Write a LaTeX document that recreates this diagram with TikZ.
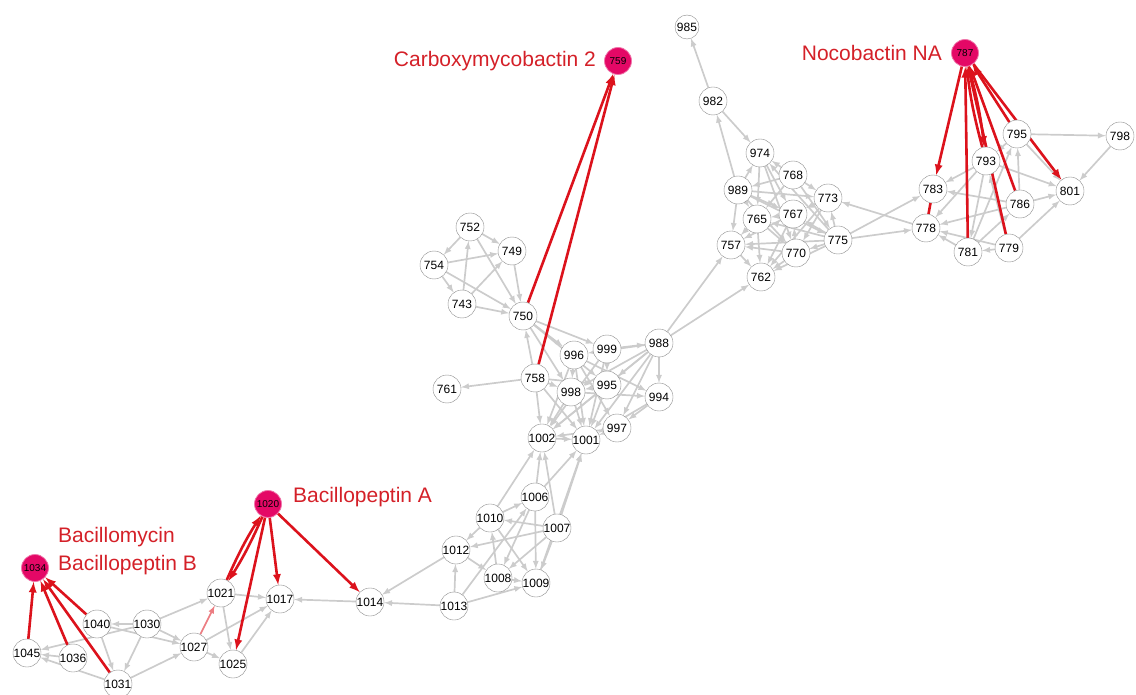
\documentclass[tikz,border=0pt]{standalone}
\usepackage{fontspec}
\setmainfont{Liberation Sans}
\usetikzlibrary{arrows,positioning}
\pgfdeclarelayer{background}
\pgfsetlayers{background,main}
\definecolor{linkgray}{RGB}{204,204,204}
\definecolor{hitred}{RGB}{220,18,28}
\definecolor{hitpink}{RGB}{228,8,102}
\definecolor{labelred}{RGB}{212,32,40}
\tikzstyle{cpd} = [circle,draw=black!45,fill=white,minimum size=28pt,inner sep=0pt,font=\fontsize{12}{12}\selectfont]
\tikzstyle{hit} = [circle,draw=hitpink!55,line width=0.8pt,fill=hitpink,minimum size=27pt,inner sep=0pt,font=\fontsize{10}{10}\selectfont]
\tikzstyle{edge} = [draw,linkgray,line width=1.7pt,-latex]
\tikzstyle{hitedge} = [draw,hitred,line width=2.6pt,-latex]
\tikzstyle{hitlabel} = [text=labelred,font=\fontsize{21}{28}\selectfont,align=left,inner sep=0pt]

\begin{document}
\begin{tikzpicture}[x=1pt,y=-1pt]
	\useasboundingbox (0,0) rectangle (1136,695);
	% hits
	\node[hit] (c759) at (618, 61) {759};
	\node[hit] (c787) at (965, 53) {787};
	\node[hit] (c1020) at (268, 504) {1020};
	\node[hit] (c1034) at (35, 568) {1034};

	\node[hitlabel, left=8pt of c759] (l759) {Carboxymycobactin 2};
	\node[hitlabel, left=9pt of c787] (l787) {Nocobactin NA};
	\node[hitlabel, right=11pt of c1020, yshift=7pt] (l1020) {Bacillopeptin A};
	\node[hitlabel, right=9pt of c1034, yshift=17pt] (l1034) {Bacillomycin\\Bacillopeptin B};

	% upper right block
	\node[cpd,minimum size=24pt] (c985) at (687, 27) {985};
	\node[cpd] (c982) at (713, 101) {982};
	\node[cpd] (c974) at (760, 153) {974};
	\node[cpd] (c768) at (793, 175) {768};
	\node[cpd] (c773) at (828, 198) {773};
	\node[cpd] (c989) at (738, 190) {989};
	\node[cpd] (c765) at (757, 219) {765};
	\node[cpd] (c767) at (793, 214) {767};
	\node[cpd] (c775) at (838, 240) {775};
	\node[cpd] (c757) at (731, 245) {757};
	\node[cpd] (c770) at (796, 253) {770};
	\node[cpd] (c762) at (761, 277) {762};

	\node[cpd] (c795) at (1017, 134) {795};
	\node[cpd] (c798) at (1120, 136) {798};
	\node[cpd] (c793) at (986, 161) {793};
	\node[cpd] (c801) at (1070, 191) {801};
	\node[cpd] (c783) at (933, 189) {783};
	\node[cpd] (c786) at (1020, 204) {786};
	\node[cpd] (c778) at (926, 228) {778};
	\node[cpd] (c781) at (968, 252) {781};
	\node[cpd] (c779) at (1009, 248) {779};

	% middle block
	\node[cpd] (c752) at (470, 227) {752};
	\node[cpd] (c749) at (512, 251) {749};
	\node[cpd] (c754) at (434, 265) {754};
	\node[cpd] (c743) at (462, 304) {743};
	\node[cpd] (c750) at (523, 316) {750};
	\node[cpd] (c988) at (659, 343) {988};
	\node[cpd] (c999) at (607, 349) {999};
	\node[cpd] (c996) at (574, 355) {996};
	\node[cpd] (c758) at (535, 378) {758};
	\node[cpd] (c761) at (447, 389) {761};
	\node[cpd] (c998) at (571, 392) {998};
	\node[cpd] (c995) at (607, 385) {995};
	\node[cpd] (c994) at (659, 397) {994};
	\node[cpd] (c997) at (617, 428) {997};
	\node[cpd] (c1002) at (542, 438) {1002};
	\node[cpd] (c1001) at (586, 440) {1001};

	\node[cpd] (c1006) at (535, 497) {1006};
	\node[cpd] (c1010) at (490, 518) {1010};
	\node[cpd] (c1007) at (557, 528) {1007};
	\node[cpd] (c1012) at (456, 550) {1012};
	\node[cpd] (c1008) at (498, 578) {1008};
	\node[cpd] (c1009) at (536, 583) {1009};
	\node[cpd] (c1013) at (454, 606) {1013};

	% lower left block
	\node[cpd] (c1014) at (370, 602) {1014};
	\node[cpd] (c1021) at (221, 593) {1021};
	\node[cpd] (c1017) at (280, 599) {1017};
	\node[cpd] (c1025) at (233, 664) {1025};
	\node[cpd] (c1027) at (194, 647) {1027};
	\node[cpd] (c1030) at (147, 624) {1030};
	\node[cpd] (c1040) at (97, 624) {1040};
	\node[cpd] (c1045) at (27, 653) {1045};
	\node[cpd] (c1036) at (73, 658) {1036};
	\node[cpd] (c1031) at (118, 684) {1031};

	\begin{pgfonlayer}{background}
	\foreach \source/ \dest in {1030/1040, 1030/1021, 1030/1027, 1030/1031, 1030/1045, 1040/1027, 1040/1031,
		1036/1045, 1031/1045, 1031/1027, 1027/1025, 1027/1017, 1021/1017, 1021/1025, 1025/1017,
		1014/1017, 1013/1014, 1012/1014,
		1013/1012, 1013/1009, 1013/1006, 1010/1012, 1012/1008, 1007/1012, 1010/1006, 1007/1010,
		1010/1009, 1010/1002, 1006/1009, 1006/1002, 1006/1001, 1007/1009, 1007/1008, 1007/1002,
		1007/1001, 1008/1010, 1008/1009, 1006/1008, 1009/1001,
		1002/1001, 758/761, 758/1002, 758/750, 758/998, 758/1001, 758/995, 750/999, 750/996,
		750/998, 750/995, 996/1002, 996/1001, 996/997, 996/994, 999/988, 999/1002, 999/1001,
		998/1002, 998/1001, 998/994, 995/1002, 995/1001, 995/998, 988/994, 988/1002, 988/1001,
		988/997, 988/998, 988/996, 988/995, 994/997, 994/1001, 997/1001, 997/1002, 996/998, 999/995,
		752/754, 752/749, 752/750, 743/752, 754/749, 754/750, 754/743, 743/750, 743/749, 749/750,
		988/757, 988/762,
		982/985, 982/974, 989/982, 989/974, 989/765, 989/757, 989/767, 989/770, 989/775, 989/773,
		974/765, 974/767, 974/770, 768/974, 768/989, 768/765, 768/775, 768/773, 767/765, 767/757,
		767/762, 765/757, 765/762, 765/770, 770/757, 770/762, 770/767, 775/773, 775/770, 775/767,
		775/765, 775/757, 775/762, 775/974, 773/767, 773/770, 773/762, 757/762,
		775/778, 778/773, 775/783,
		795/798, 798/801, 795/793, 795/801, 793/783, 793/801, 793/778, 793/781, 786/801, 786/783,
		786/778, 786/795, 779/801, 779/781, 779/778, 779/793, 781/778, 781/786, 781/795}
		\path[edge] (c\source) -- (c\dest);

	\foreach \source/ \dest in {1045/1034, 1036/1034, 1031/1034, 1040/1034, 1020/1025, 1020/1017,
		1020/1014, 750/759, 758/759, 787/783, 781/787, 786/787, 779/787, 795/787, 787/801}
		\path[hitedge] (c\source) -- (c\dest);
	\path[hitedge] (c1021) to[bend left=4] (c1020);
	\path[hitedge] (c1020) to[bend left=4] (c1021);
	\path[hitedge] (c787) to[bend left=4] (c793);
	\path[hitedge] (c793) to[bend left=4] (c787);
	\path[hitedge,hitred!55,line width=1.6pt] (c1027) -- (c1021);
	\path[hitedge,-] (c778) -- (c783);
	\end{pgfonlayer}
\end{tikzpicture}
\end{document}
